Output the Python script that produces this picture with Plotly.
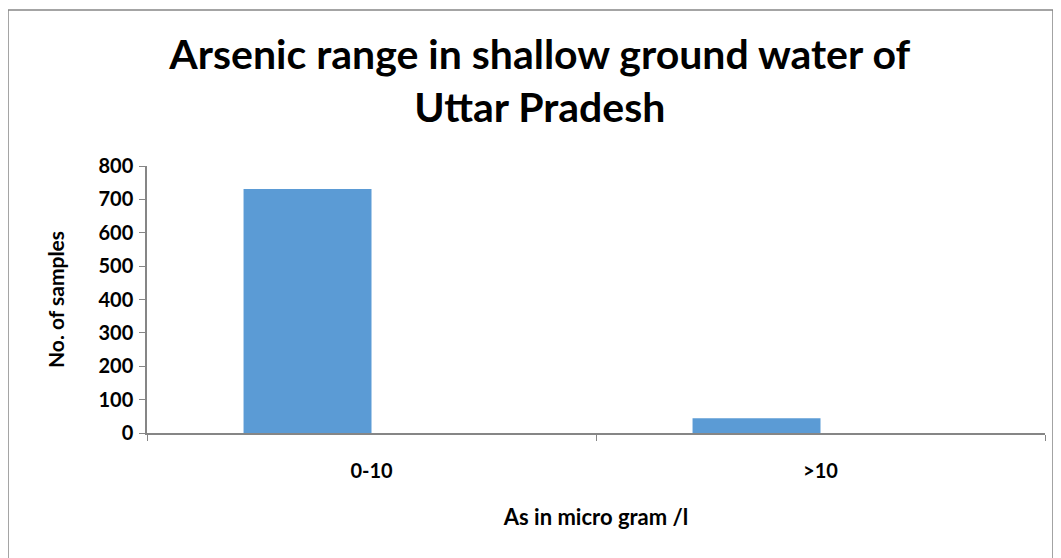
import plotly.graph_objects as go

categories = ["0-10", ">10"]
samples = [731, 44]
y_ticks = [0, 100, 200, 300, 400, 500, 600, 700, 800]

FONT = "Lato"

fig = go.Figure()
fig.add_trace(go.Bar(
    x=categories, y=samples, width=0.285, offset=-0.285,
    marker=dict(color="#5B9BD5", line=dict(width=0)),
))

# page body has an 8px margin, so figure is sized to fit the 1061x558 window
fig.update_layout(
    width=1053, height=550,
    margin=dict(l=139, r=16, t=158, b=125),
    paper_bgcolor="white", plot_bgcolor="white",
    showlegend=False,
    title=dict(
        text="<b>Arsenic range in shallow ground water of<br>Uttar Pradesh</b>",
        x=0.505, xanchor="center", xref="container",
        y=0.889, yanchor="top",
        font=dict(family=FONT, size=41, color="black"),
    ),
    font=dict(family=FONT, color="black"),
)
fig.update_xaxes(
    showline=True, linecolor="#868686", linewidth=1.5,
    ticks="outside", tickson="boundaries", ticklen=6, tickcolor="#868686",
    tickfont=dict(family=FONT, size=20, color="black", weight="bold"),
    ticklabelstandoff=19,
    title=dict(text="<b>As in micro gram /l</b>", font=dict(family=FONT, size=22), standoff=29),
    showgrid=False,
)
fig.update_yaxes(
    range=[0, 800], tickvals=y_ticks,
    showline=True, linecolor="#868686", linewidth=1.5,
    ticks="outside", ticklen=6, tickcolor="#868686",
    tickfont=dict(family=FONT, size=20, color="black", weight="bold"),
    ticklabelstandoff=2,
    title=dict(text="<b>No. of samples</b>", font=dict(family=FONT, size=21), standoff=28),
    showgrid=False, zeroline=False,
)
fig.add_shape(type="rect", xref="paper", yref="paper",
              x0=-0.1548, x1=1.0089, y0=-0.48, y1=1.584,
              line=dict(color="#868686", width=1.5), fillcolor="rgba(0,0,0,0)", layer="below")

fig.write_html("out.html")
